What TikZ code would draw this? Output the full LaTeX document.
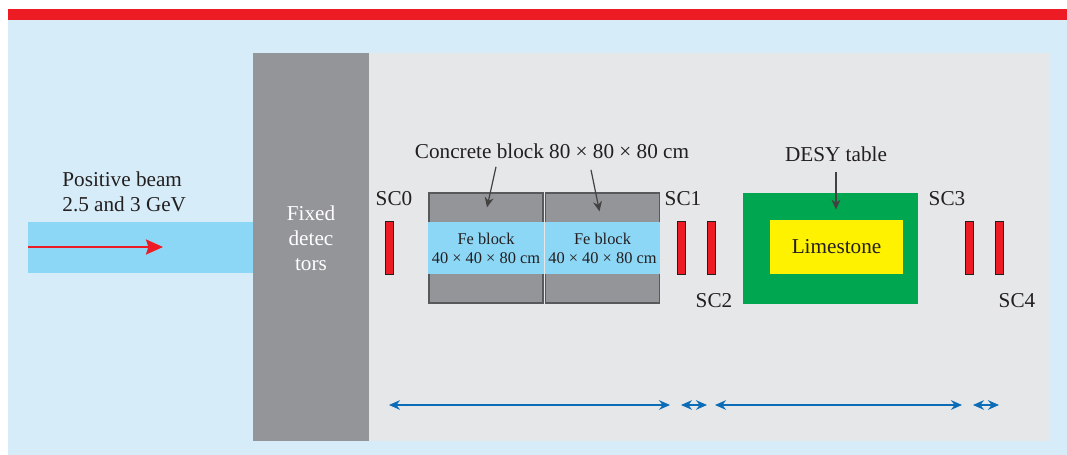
\documentclass[tikz,border=0pt]{standalone}
\usepackage{fontspec}
\setmainfont{Liberation Serif}
\usetikzlibrary{arrows.meta, positioning, calc}
\definecolor{barred}{HTML}{ED1C24}
\definecolor{skybg}{HTML}{D6ECF8}
\definecolor{beamblue}{HTML}{8DD7F6}
\definecolor{detgray}{HTML}{939598}
\definecolor{hallgray}{HTML}{E6E7E8}
\definecolor{blockedge}{HTML}{58595B}
\definecolor{tablegreen}{HTML}{00A650}
\definecolor{stoneyellow}{HTML}{FFF200}
\definecolor{inkdark}{HTML}{231F20}
\definecolor{rulerblue}{HTML}{0B6DB7}

\begin{document}
\begin{tikzpicture}[x=0.5pt, y=-0.5pt, font=\fontsize{10.6}{12.4}\selectfont, text=inkdark,
    scbox/.style={draw=inkdark, fill=barred, line width=0.5pt, minimum width=4pt, minimum height=26.5pt, inner sep=0pt},
    concrete/.style={draw=blockedge, fill=detgray, line width=0.6pt, minimum width=57pt, minimum height=55pt, inner sep=0pt},
    feband/.style={fill=beamblue, minimum width=57.6pt, minimum height=26pt, inner sep=0pt, align=center, font=\fontsize{8.2}{9.5}\selectfont},
    pointer/.style={draw=inkdark!85, line width=0.6pt, -{Stealth[length=5pt, width=4.5pt]}},
    ruler/.style={draw=rulerblue, line width=0.7pt, {Stealth[length=5.5pt, width=4.8pt]}-{Stealth[length=5.5pt, width=4.8pt]}}]
    \useasboundingbox (0,0) rectangle (1067,455);

    % background, hall and beam line
    \fill[skybg] (8,20) rectangle (1067,455);
    \fill[barred] (8,9) rectangle (1067,20);
    \fill[hallgray] (369,53) rectangle (1050,441);
    \fill[detgray] (253,53) rectangle (369,441);
    \fill[beamblue] (28,222) rectangle (253,273);

    \node[align=left, inner sep=0pt, anchor=west] (beamlabel) at (62,192) {Positive beam\\2.5 and 3 GeV};
    \coordinate (beamtail) at (28,247);
    \coordinate (beamhead) at (163,247);
    \draw[barred, line width=1.2pt, -{Stealth[length=8.5pt, width=7.5pt, inset=1.2pt]}] (beamtail) -- (beamhead);

    \node[align=center, text=white, inner sep=0pt] (fixed) at (311,238) {Fixed\\detec\\tors};

    % scintillators
    \node[scbox] (sc0) at (389,247.5) {};
    \node[scbox] (sc1) at (681,247.5) {};
    \node[scbox] (sc2) at (711,247.5) {};
    \node[scbox] (sc3) at (969,247.5) {};
    \node[scbox] (sc4) at (999,247.5) {};
    \node[inner sep=0pt] (sc0lab) at (394,199) {SC0};
    \node[inner sep=0pt] (sc1lab) at (683,199) {SC1};
    \node[inner sep=0pt] (sc2lab) at (714,301) {SC2};
    \node[inner sep=0pt] (sc3lab) at (947,199) {SC3};
    \node[inner sep=0pt] (sc4lab) at (1017,301) {SC4};

    % concrete blocks with iron inside
    \node[concrete] (cb1) at (486,248) {};
    \node[concrete] (cb2) at (602.5,248) {};
    \node[feband] (fe1) at (cb1) {Fe block\\40~×~40~×~80 cm};
    \node[feband] (fe2) at (cb2) {Fe block\\40~×~40~×~80 cm};
    \node[inner sep=0pt] (concretelab) at (552,151) {Concrete block 80~×~80~×~80 cm};
    \draw[pointer] ($(concretelab.south)+(-56,8)$) -- ($(cb1.north)+(1,15)$);
    \draw[pointer] ($(concretelab.south)+(39,11)$) -- ($(cb2.north)+(-3,19)$);

    % DESY table with limestone
    \node[fill=tablegreen, minimum width=87.5pt, minimum height=55.5pt, inner sep=0pt] (desy) at (830.5,248.5) {};
    \node[fill=stoneyellow, minimum width=66.5pt, minimum height=27pt, inner sep=0pt] (stone) at (836.5,247) {Limestone};
    \node[inner sep=0pt] (desylab) at (836,154) {DESY table};
    \draw[pointer] ($(desylab.south)+(0,10)$) -- ($(desy.north)+(5.5,17)$);

    % distances
    \coordinate (r0) at (389,405);
    \coordinate (r1) at (670,405);
    \coordinate (r2) at (681,405);
    \coordinate (r3) at (707,405);
    \coordinate (r4) at (715,405);
    \coordinate (r5) at (962,405);
    \coordinate (r6) at (973,405);
    \coordinate (r7) at (999,405);
    \draw[ruler] (r0) -- (r1);
    \draw[ruler] (r2) -- (r3);
    \draw[ruler] (r4) -- (r5);
    \draw[ruler] (r6) -- (r7);
\end{tikzpicture}
\end{document}
